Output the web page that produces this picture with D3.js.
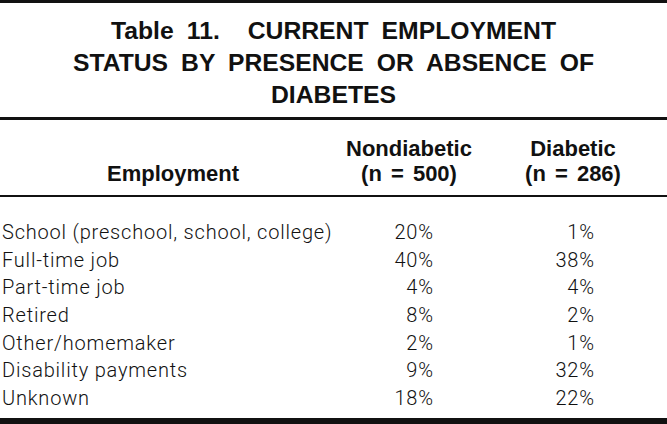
<!DOCTYPE html>
<html><head><meta charset="utf-8">
<script src="https://cdn.jsdelivr.net/npm/d3@7"></script>
<style>html,body{margin:0;padding:0;background:#fff;}svg{display:block;}</style>
</head><body>
<script>
const titleLines = ["Table 11. \u2009\u2009\u2009CURRENT EMPLOYMENT", "STATUS BY PRESENCE OR ABSENCE OF", "DIABETES"];
const titleWidths = [445, 521, 125];
const rowHeader = "Employment";
const columns = ["Nondiabetic", "Diabetic"];
const columnN = ["(n = 500)", "(n = 286)"];
const categories = ["School (preschool, school, college)", "Full-time job", "Part-time job", "Retired", "Other/homemaker", "Disability payments", "Unknown"];
const nondiabetic = [20, 40, 4, 8, 2, 9, 18];
const diabetic = [1, 38, 4, 2, 1, 32, 22];

const W = 667, H = 424;
const svg = d3.select("body").append("svg").attr("width", W).attr("height", H);

// rules
const rules = [{y: 0, h: 3}, {y: 117, h: 3}, {y: 195, h: 2}, {y: 418, h: 6}];
svg.selectAll("rect.rule").data(rules).join("rect").attr("class", "rule")
  .attr("x", 0).attr("width", W).attr("y", d => d.y).attr("height", d => d.h).attr("fill", "#111");

// title
const titleY = d3.scaleLinear().domain([0, 2]).range([38.5, 102.5]);
svg.selectAll("text.title").data(titleLines).join("text").attr("class", "title")
  .attr("x", 333.5).attr("y", (d, i) => titleY(i))
  .attr("text-anchor", "middle")
  .attr("font-family", "'Liberation Sans', Arial, sans-serif")
  .attr("font-weight", "bold").attr("font-size", 24).attr("word-spacing", 6).attr("fill", "#111")
  .attr("textLength", (d, i) => titleWidths[i]).attr("lengthAdjust", "spacingAndGlyphs")
  .text(d => d);

// columns
const colRight = d3.scaleOrdinal().domain(columns).range([433, 594]);
const colCenter = d3.scaleOrdinal().domain(columns).range([409, 573]);

const hdrFont = "'Liberation Sans', Arial, sans-serif";
svg.append("text").attr("x", 173).attr("y", 181).attr("text-anchor", "middle")
  .attr("font-family", hdrFont).attr("font-weight", "bold").attr("font-size", 22).attr("fill", "#111")
  .text(rowHeader);
svg.selectAll("text.colh").data(columns).join("text").attr("class", "colh")
  .attr("x", d => colCenter(d)).attr("y", 155.5).attr("text-anchor", "middle")
  .attr("font-family", hdrFont).attr("font-weight", "bold").attr("font-size", 22).attr("fill", "#111")
  .text(d => d);
svg.selectAll("text.coln").data(columns).join("text").attr("class", "coln")
  .attr("x", d => colCenter(d)).attr("y", 181).attr("text-anchor", "middle")
  .attr("font-family", hdrFont).attr("font-weight", "bold").attr("font-size", 22).attr("word-spacing", 3).attr("fill", "#111")
  .text((d, i) => columnN[i]);

// rows
const y = d3.scalePoint().domain(categories).range([239, 405]);
const bodyFont = "Roboto, 'Liberation Sans', sans-serif";
const rows = svg.selectAll("g.row").data(categories).join("g").attr("class", "row")
  .attr("transform", d => `translate(0,${y(d)})`);
rows.append("text").attr("x", 2).attr("font-family", bodyFont).attr("font-weight", 300)
  .attr("font-size", 20).attr("letter-spacing", 0.8).attr("fill", "#111").text(d => d);
rows.append("text").attr("x", colRight(columns[0]) + 0.8).attr("text-anchor", "end")
  .attr("font-family", bodyFont).attr("font-weight", 300).attr("font-size", 20).attr("letter-spacing", 0.8).attr("fill", "#111")
  .text((d, i) => nondiabetic[i] + "%");
rows.append("text").attr("x", colRight(columns[1]) + 0.8).attr("text-anchor", "end")
  .attr("font-family", bodyFont).attr("font-weight", 300).attr("font-size", 20).attr("letter-spacing", 0.8).attr("fill", "#111")
  .text((d, i) => diabetic[i] + "%");
</script>
</body></html>
